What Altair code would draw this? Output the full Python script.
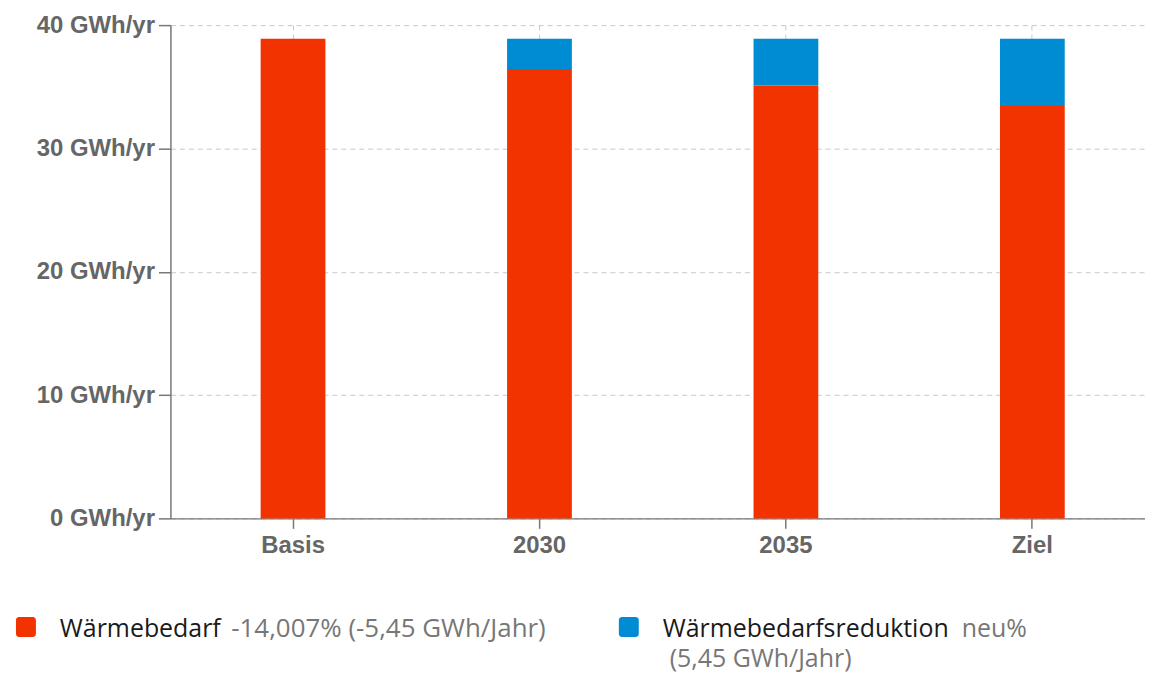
import altair as alt
import pandas as pd

categories = ["Basis", "2030", "2035", "Ziel"]
waermebedarf = [38.9, 36.45, 35.1, 33.45]
reduktion = [0.0, 2.45, 3.8, 5.45]
series_names = ["Wärmebedarf", "Wärmebedarfsreduktion"]
series_notes = ["-14,007% (-5,45 GWh/Jahr)", "neu%", "(5,45 GWh/Jahr)"]
y_ticks = [0, 10, 20, 30, 40]
colors = ["#F23300", "#008CD2"]

rows = []
for c, w, r in zip(categories, waermebedarf, reduktion):
    rows.append({"cat": c, "series": series_names[0], "value": w, "order": 0})
    rows.append({"cat": c, "series": series_names[1], "value": r, "order": 1})
df = pd.DataFrame(rows)

AXIS_FONT = "Liberation Sans"
LEG_FONT = "Open Sans"
GREY = "#666666"

bars = alt.Chart(df).mark_bar(size=65).encode(
    x=alt.X("cat:N", sort=categories,
            scale=alt.Scale(domain=categories, range=[0, 988], paddingInner=0.737, paddingOuter=0.366),
            axis=alt.Axis(title=None, labelAngle=0, labelFont=AXIS_FONT, labelFontWeight="bold",
                          labelFontSize=24, labelColor=GREY, labelPadding=5, tickSize=10,
                          tickColor="#777777", domainColor="#777777", domainWidth=1.5, tickWidth=1.5,
                          grid=True, gridDash=[5, 4], gridColor="#c8c8c8")),
    y=alt.Y("value:Q", stack="zero",
            scale=alt.Scale(domain=[0, 40], nice=False),
            axis=alt.Axis(title=None, values=y_ticks, labelExpr="datum.value + ' GWh/yr'",
                          labelFont=AXIS_FONT, labelFontWeight="bold", labelFontSize=24,
                          labelColor=GREY, labelPadding=4, tickSize=12, tickColor="#777777",
                          tickWidth=1.5, domainColor="#777777", domainWidth=1.5,
                          grid=True, gridDash=[5, 4], gridColor="#c8c8c8")),
    color=alt.Color("series:N", scale=alt.Scale(domain=series_names, range=colors), legend=None),
    order=alt.Order("order:Q", sort="ascending"),
)

leg = pd.DataFrame({"k": [0]})

def sq(x0, y0, color):
    return alt.Chart(leg).mark_rect(color=color, cornerRadius=3).encode(
        x=alt.value(x0), x2=alt.value(x0 + 20), y=alt.value(y0), y2=alt.value(y0 + 20))

def txt(x0, y0, s, color, size=25):
    return alt.Chart(leg).mark_text(text=s, font=LEG_FONT, fontSize=size, color=color,
                                    align="left", baseline="alphabetic").encode(
        x=alt.value(x0), y=alt.value(y0))

ox, oy = 171, 24
legend_layers = [
    sq(16 - ox, 618 - oy, colors[0]),
    txt(60 - ox, 638 - oy, series_names[0], "#1a1a1a"),
    txt(232 - ox, 638 - oy, series_notes[0], "#777777", 26),
    sq(621 - ox, 618 - oy, colors[1]),
    txt(665 - ox, 638 - oy, series_names[1], "#1a1a1a"),
    txt(965 - ox, 638 - oy, series_notes[1], "#777777", 25),
    txt(672 - ox, 668 - oy, series_notes[2], "#777777", 25),
]

chart = alt.layer(bars, *legend_layers).properties(
    width=978, height=495,
    autosize=alt.AutoSizeParams(type="none"),
    padding={"left": 163, "top": 16, "right": 0, "bottom": 155},
).configure_view(stroke=None)

chart.save("out.html", embed_options={"renderer": "svg", "actions": False})
